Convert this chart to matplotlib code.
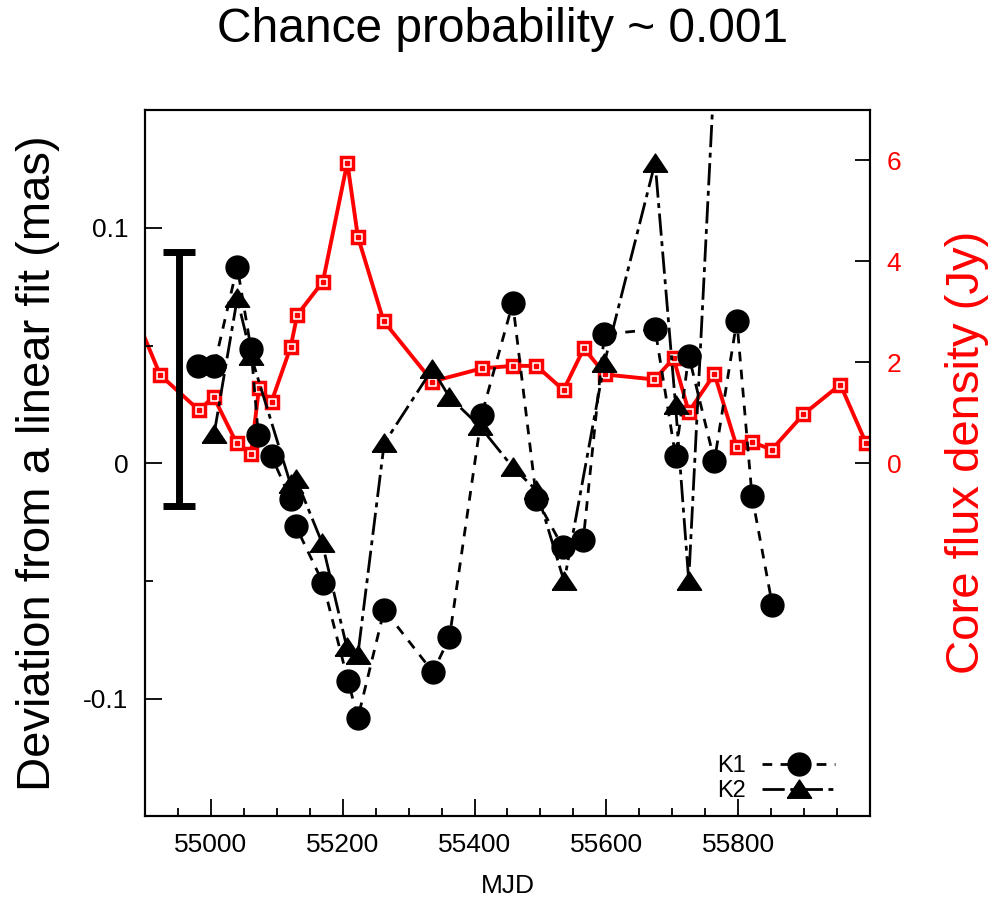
import matplotlib
matplotlib.use('Agg')
import matplotlib.pyplot as plt
from matplotlib.ticker import MultipleLocator, FixedLocator, FuncFormatter

plt.rcParams['font.family'] = ['Liberation Sans', 'DejaVu Sans']
plt.rcParams['axes.unicode_minus'] = False
plt.rcParams['lines.scale_dashes'] = False

# K1 component: epoch (MJD) and deviation from linear fit (mas)
k1_mjd = [54981, 55005, 55040, 55061, 55072, 55092, 55121, 55129, 55170, 55208,
          55223, 55263, 55337, 55362, 55411, 55458, 55494, 55534, 55565, 55597,
          55674, 55705, 55725, 55764, 55798, 55821, 55852]
k1_dev = [0.0413, 0.0413, 0.0835, 0.0484, 0.0119, 0.0030, -0.0153, -0.0268, -0.0508, -0.0923,
          -0.1082, -0.0622, -0.0887, -0.0739, 0.0207, 0.0680, -0.0153, -0.0356, -0.0325, 0.0548,
          0.0569, 0.0030, 0.0457, 0.0010, 0.0606, -0.0139, -0.0604]

# K2 component (last epoch lies above the plotted range)
k2_mjd = [55005, 55040, 55061, 55121, 55129, 55169, 55206, 55223, 55263, 55336,
          55362, 55408, 55458, 55494, 55536, 55597, 55674, 55705, 55725, 55779]
k2_dev = [0.0126, 0.0700, 0.0455, -0.0090, -0.0065, -0.0340, -0.0779, -0.0813, 0.0085, 0.0400,
          0.0281, 0.0157, -0.0017, -0.0115, -0.0502, 0.0426, 0.1277, 0.0247, -0.0498, 0.25]

# core flux density (Jy)
flux_mjd = [54877, 54923, 54982, 55004, 55039, 55061, 55073, 55092, 55121, 55131,
            55170, 55207, 55223, 55262, 55336, 55411, 55458, 55494, 55535, 55566,
            55598, 55673, 55702, 55725, 55764, 55798, 55821, 55851, 55899, 55955, 55994]
flux_jy = [3.20, 1.75, 1.05, 1.32, 0.40, 0.19, 1.49, 1.22, 2.30, 2.94,
           3.60, 5.96, 4.49, 2.82, 1.62, 1.88, 1.93, 1.93, 1.45, 2.28,
           1.76, 1.66, 2.08, 1.02, 1.77, 0.32, 0.42, 0.27, 0.97, 1.56, 0.40]

# typical position error
err_mjd = 54952
err_dev = 0.0358
err_half = 0.0541

fig = plt.figure(figsize=(10.06, 8.99), dpi=100)
ax = fig.add_axes([0.1441, 0.0918, 0.7207, 0.7858])
ax2 = ax.twinx()
ax.set_zorder(ax2.get_zorder() + 1)
ax.patch.set_visible(False)

# red flux curve on the right axis
ax2.plot(flux_mjd, flux_jy, color='red', lw=2.8, marker='s', ms=9,
         mfc='white', mec='red', mew=2.5)
ax2.plot(flux_mjd, flux_jy, ls='none', marker='s', ms=2.2, color='red')

tri = [(-1, -0.72), (1, -0.72), (0, 0.78), (-1, -0.72)]
ax.plot(k1_mjd, k1_dev, color='black', lw=2, dashes=(7, 6), marker='o', ms=16.5,
        label='K1')
ax.plot(k2_mjd, k2_dev, color='black', lw=2, dashes=(16, 4, 3.5, 4), marker=tri,
        ms=17.5, label='K2')
ax.errorbar([err_mjd], [err_dev], yerr=[err_half], color='black', elinewidth=5,
            capsize=11.5, capthick=5, fmt='none')

ax.set_xlim(54900, 56000)
ax.set_ylim(-0.15, 0.15)
ax2.set_ylim(-7, 7)

ax.xaxis.set_major_locator(MultipleLocator(200))
ax.xaxis.set_minor_locator(MultipleLocator(50))
ax.xaxis.set_major_formatter(FuncFormatter(lambda v, p: '%d' % v if v < 55900 else ''))
ax.yaxis.set_major_locator(FixedLocator([-0.1, 0, 0.1]))
ax.yaxis.set_minor_locator(FixedLocator([-0.05, 0.05]))
ax.yaxis.set_major_formatter(FuncFormatter(lambda v, p: '%g' % (round(v, 3) + 0.0)))
ax2.yaxis.set_major_locator(FixedLocator([0, 2, 4, 6]))

ax.tick_params(axis='both', which='major', direction='in', length=12, width=1.3,
               labelsize=19, pad=12)
ax.tick_params(axis='both', which='minor', direction='in', length=6, width=1.3)
ax.tick_params(axis='x', top=False, which='both')
ax2.tick_params(axis='y', direction='in', length=11, width=1.3, labelsize=19,
                labelcolor='red', pad=12)

for a in (ax, ax2):
    for s in a.spines.values():
        s.set_linewidth(1.5)

ax.set_xlabel('MJD', fontsize=19)
ax.xaxis.set_label_coords(0.5, -0.082)
ax.set_ylabel('Deviation from a linear fit (mas)', fontsize=34)
ax.yaxis.set_label_coords(-0.117, 0.5)
ax2.set_ylabel('Core flux density (Jy)', fontsize=34, color='red')
ax2.yaxis.set_label_coords(1.103, 0.515)

fig.text(0.5, 1 - 30 / 899, 'Chance probability ~ 0.001', fontsize=34.5,
         ha='center', va='center')

ax.legend(loc='lower right', bbox_to_anchor=(0.952, 0.02), frameon=False,
          markerfirst=False, fontsize=17, handlelength=3.1, handletextpad=0.7,
          labelspacing=0.15, borderpad=0, borderaxespad=0)

fig.savefig('out.png', dpi=100)
